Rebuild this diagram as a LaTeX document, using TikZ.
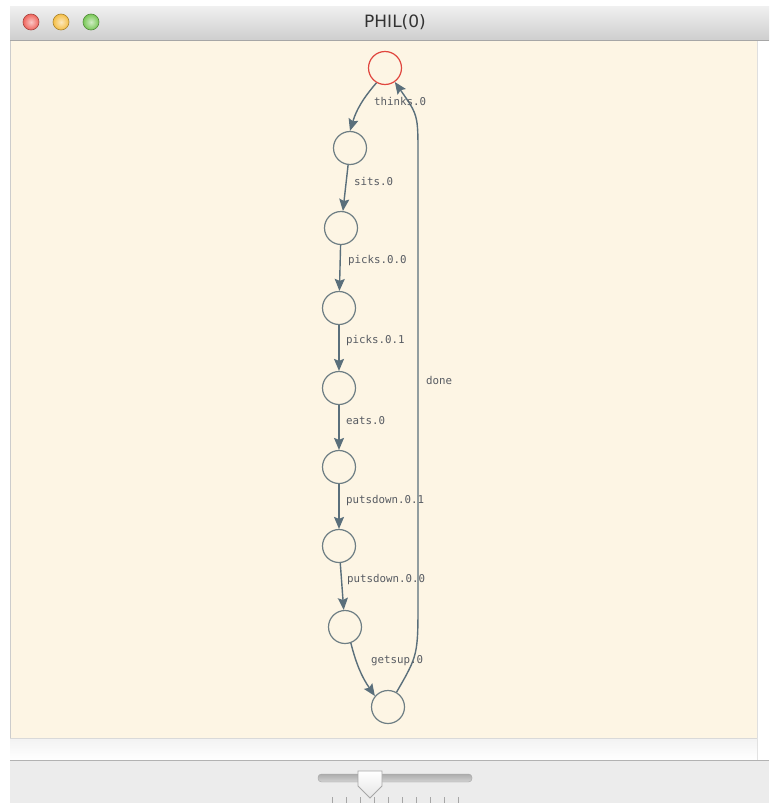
\documentclass[tikz,border=0pt]{standalone}
\usepackage{fontspec}
\newfontfamily\monofont{DejaVu Sans Mono}
\newfontfamily\titlefont{DejaVu Sans}
\usetikzlibrary{arrows.meta,shadings}
\definecolor{cream}{HTML}{FDF5E4}
\definecolor{edgecol}{HTML}{5A6F7B}
\definecolor{circcol}{HTML}{6E7E84}
\definecolor{labcol}{HTML}{575B62}
\definecolor{redcirc}{HTML}{E0463F}
\definecolor{panel}{HTML}{ECECEC}
\definecolor{tlred}{HTML}{F0645C}
\definecolor{tlorange}{HTML}{F5BE45}
\definecolor{tlgreen}{HTML}{78C856}
\tikzset{
  state/.style={circle,draw=circcol,line width=1.2pt,minimum size=33pt,inner sep=0pt},
  initstate/.style={state,draw=redcirc},
  trans/.style={draw=edgecol,line width=1.4pt,-{Stealth[length=12pt,width=10pt,inset=2pt]}},
  lab/.style={anchor=west,inner sep=0pt,text=labcol,font=\monofont\fontsize{10.8}{12}\selectfont},
  light/.style={circle,minimum size=16pt,inner sep=0pt,draw=#1!70!black,line width=0.6pt,
    inner color=#1!35!white,outer color=#1},
}
\begin{document}
\begin{tikzpicture}[x=1pt,y=-1pt]
\useasboundingbox (0,0) rectangle (769,803);
\fill[white] (0,0) rectangle (769,803);
% title bar
\shade[top color=gray!12,bottom color=gray!38] (10,6) rectangle (769,40);
\draw[gray!70,line width=0.8pt] (10,40.5) -- (769,40.5);
\node[light=tlred] (lr) at (31,22) {};
\node[light=tlorange] (lo) at (61,22) {};
\node[light=tlgreen] (lg) at (91,22) {};
\node[font=\titlefont\fontsize{17}{20}\selectfont,text=black!80] (title) at (395,22) {PHIL(0)};
% content
\fill[cream] (10,41) rectangle (757,738);
\draw[gray!40,line width=0.6pt] (10,41) -- (10,760);
\draw[gray!25,line width=0.6pt] (757,41) -- (757,760);
\shade[top color=gray!10,bottom color=white] (10,738) rectangle (757,760);
\draw[gray!30,line width=0.5pt] (10,738) -- (757,738);
\draw[gray!60,line width=0.8pt] (10,760.5) -- (769,760.5);
\fill[panel] (10,761) rectangle (769,803);
% slider
\shade[top color=gray!65,bottom color=gray!35,rounded corners=3.5pt,draw=gray!70] (318,774) rectangle (472,782);
\foreach \i in {0,...,9} \draw[gray!70,line width=0.8pt] ({332+14*\i},797) -- ({332+14*\i},803);
\shade[top color=white,bottom color=gray!20,draw=gray!70,line width=0.8pt]
  (358,771) -- (382,771) -- (382,786) -- (370,798) -- (358,786) -- cycle;
% states
\node[initstate] (s0) at (385,68) {};
\node[state] (s1) at (350,148) {};
\node[state] (s2) at (341,228) {};
\node[state] (s3) at (339,308) {};
\node[state] (s4) at (339,388) {};
\node[state] (s5) at (339,467) {};
\node[state] (s6) at (339,546) {};
\node[state] (s7) at (345,627) {};
\node[state] (s8) at (388,707) {};
% transitions
\draw[trans] (s0.240) to[bend right=12] (s1.north);
\draw[trans] (s1) -- (s2);
\draw[trans] (s2) -- (s3);
\draw[trans] (s3) -- (s4);
\draw[trans] (s4) -- (s5);
\draw[trans] (s5) -- (s6);
\draw[trans] (s6) -- (s7);
\draw[trans] (s7.290) to[bend right=10] (s8.140);
\draw[trans] (s8.60) .. controls (418,655) .. (418,600) -- (418,155) .. controls (418,115) .. (s0.-55);
% labels
\node[lab] (l0) at (374,101) {thinks.0};
\node[lab] (l1) at (354,181) {sits.0};
\node[lab] (l2) at (348,261) {picks.0.0};
\node[lab] (l3) at (346,341) {picks.0.1};
\node[lab] (l4) at (346,421) {eats.0};
\node[lab] (l5) at (346,501) {putsdown.0.1};
\node[lab] (l6) at (347,580) {putsdown.0.0};
\node[lab] (l7) at (371,661) {getsup.0};
\node[lab] (l8) at (426,380) {done};
\end{tikzpicture}
\end{document}
